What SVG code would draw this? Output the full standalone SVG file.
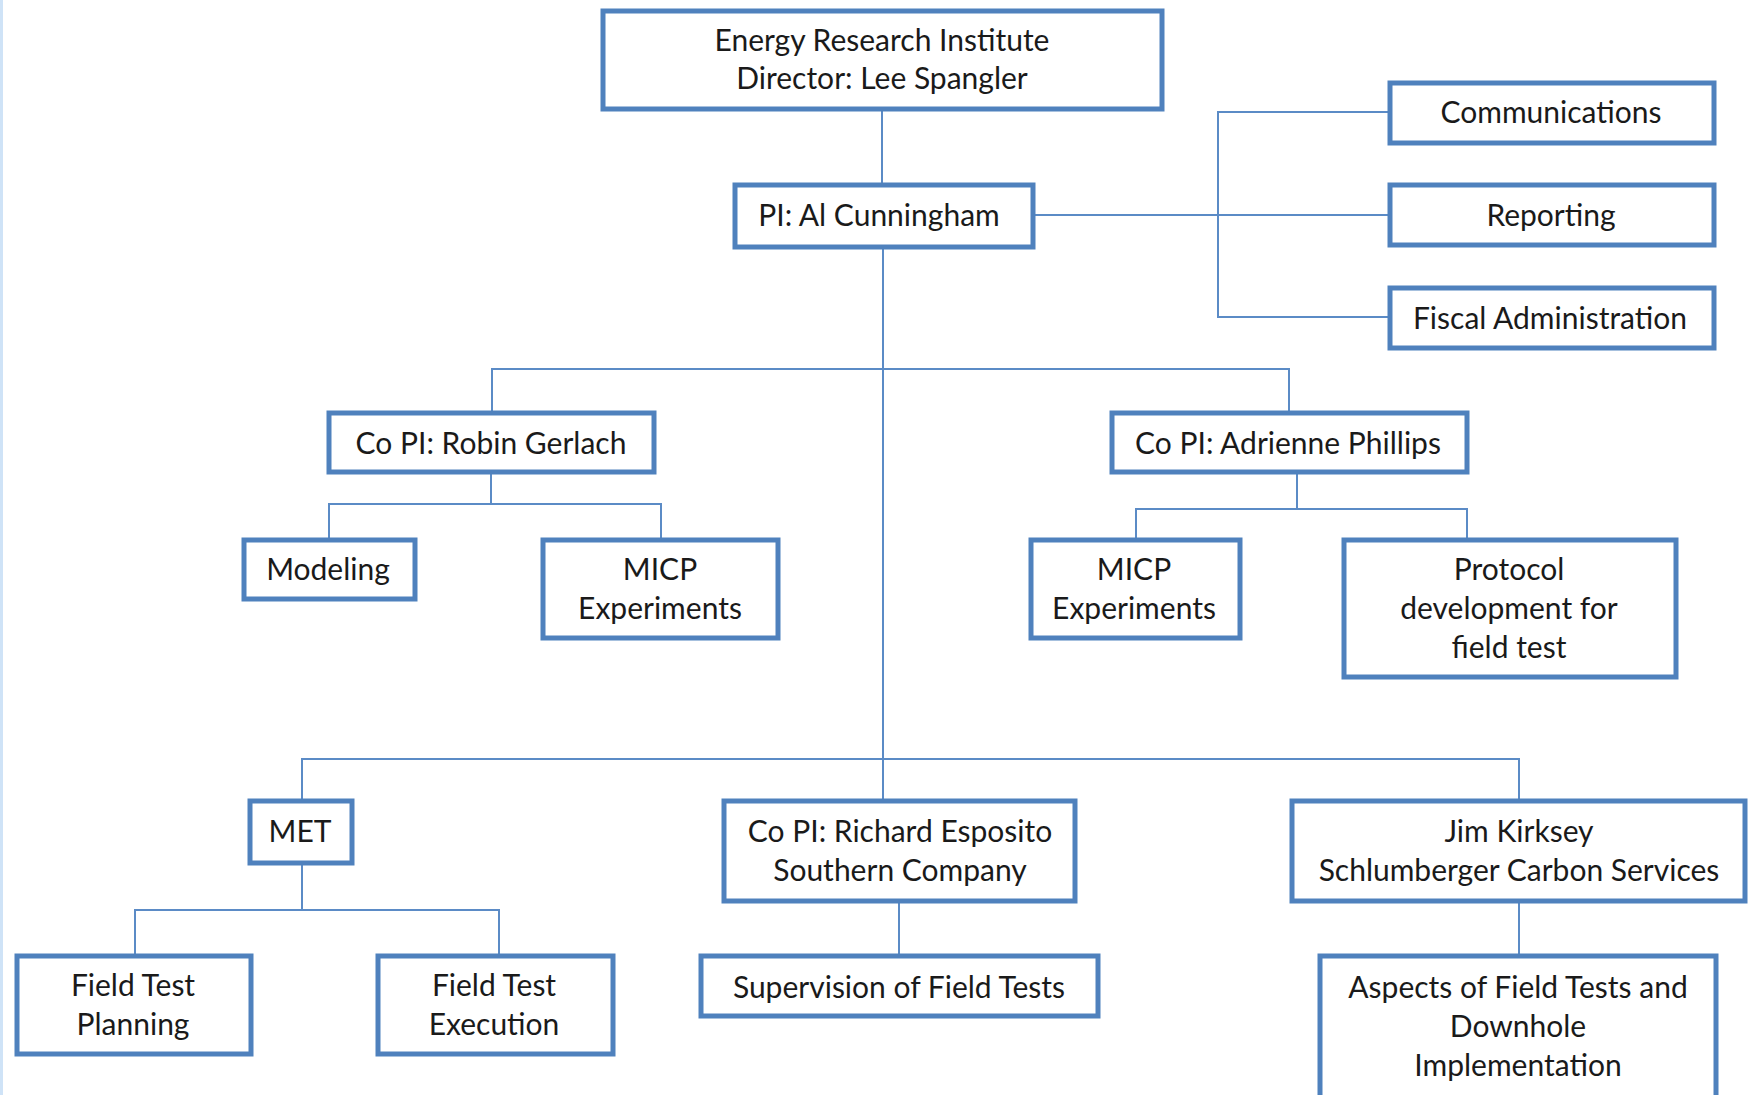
<svg xmlns="http://www.w3.org/2000/svg" width="1750" height="1095" viewBox="0 0 1750 1095">
<style>
.box{fill:#ffffff;stroke:#4f81bd;stroke-width:5}
.con{fill:none;stroke:#5b8bc6;stroke-width:2}
text{font-family:Lato,"Open Sans","Liberation Sans",sans-serif;font-size:30px;fill:#1a1a1a;text-anchor:middle}
</style>
<rect x="0" y="0" width="1750" height="1095" fill="#ffffff"/>
<rect x="0" y="0" width="3" height="1095" fill="#cfe3f7"/>
<g id="connectors">
<path class="con" d="M882 109 V185"/>
<path class="con" d="M1033 215 H1390"/>
<path class="con" d="M1390 112 H1218 V317 H1390"/>
<path class="con" d="M883 247 V801"/>
<path class="con" d="M492 413 V369 H1289 V413"/>
<path class="con" d="M491 472 V504 M329 540 V504 H661 V540"/>
<path class="con" d="M1297 472 V509 M1136 540 V509 H1467 V540"/>
<path class="con" d="M302 801 V759 H1519 V801"/>
<path class="con" d="M302 863 V910 M135 956 V910 H499 V956"/>
<path class="con" d="M899 901 V956"/>
<path class="con" d="M1519 901 V956"/>
</g>
<g id="node-eri"><rect class="box" x="603" y="11" width="559" height="98"/><text x="882" y="51">Energy Research Institute</text><text x="882" y="89">Director: Lee Spangler</text></g>
<g id="node-pi"><rect class="box" x="735" y="185" width="298" height="62"/><text x="879" y="226">PI: Al Cunningham</text></g>
<g id="node-comm"><rect class="box" x="1390" y="83" width="324" height="60"/><text x="1551" y="123">Communications</text></g>
<g id="node-rep"><rect class="box" x="1390" y="185" width="324" height="60"/><text x="1551" y="226">Reporting</text></g>
<g id="node-fiscal"><rect class="box" x="1390" y="288" width="324" height="60"/><text x="1550" y="329">Fiscal Administration</text></g>
<g id="node-gerlach"><rect class="box" x="329" y="413" width="325" height="59"/><text x="491" y="454">Co PI: Robin Gerlach</text></g>
<g id="node-phillips"><rect class="box" x="1112" y="413" width="355" height="59"/><text x="1288" y="454">Co PI: Adrienne Phillips</text></g>
<g id="node-modeling"><rect class="box" x="244" y="540" width="171" height="59"/><text x="328" y="580">Modeling</text></g>
<g id="node-micp1"><rect class="box" x="543" y="540" width="235" height="98"/><text x="660" y="580">MICP</text><text x="660" y="619">Experiments</text></g>
<g id="node-micp2"><rect class="box" x="1031" y="540" width="209" height="98"/><text x="1134" y="580">MICP</text><text x="1134" y="619">Experiments</text></g>
<g id="node-protocol"><rect class="box" x="1344" y="540" width="332" height="137"/><text x="1509" y="580">Protocol</text><text x="1509" y="619">development for</text><text x="1509" y="658">field test</text></g>
<g id="node-met"><rect class="box" x="250" y="801" width="102" height="62"/><text x="300" y="842">MET</text></g>
<g id="node-esposito"><rect class="box" x="724" y="801" width="351" height="100"/><text x="900" y="842">Co PI: Richard Esposito</text><text x="900" y="881">Southern Company</text></g>
<g id="node-kirksey"><rect class="box" x="1292" y="801" width="453" height="100"/><text x="1519" y="842">Jim Kirksey</text><text x="1519" y="881">Schlumberger Carbon Services</text></g>
<g id="node-ftp"><rect class="box" x="17" y="956" width="234" height="98"/><text x="133" y="996">Field Test</text><text x="133" y="1035">Planning</text></g>
<g id="node-fte"><rect class="box" x="378" y="956" width="235" height="98"/><text x="494" y="996">Field Test</text><text x="494" y="1035">Execution</text></g>
<g id="node-supervision"><rect class="box" x="701" y="956" width="397" height="60"/><text x="899" y="998">Supervision of Field Tests</text></g>
<g id="node-aspects"><rect class="box" x="1320" y="956" width="396" height="150"/><text x="1518" y="998">Aspects of Field Tests and</text><text x="1518" y="1037">Downhole</text><text x="1518" y="1076">Implementation</text></g>
</svg>
